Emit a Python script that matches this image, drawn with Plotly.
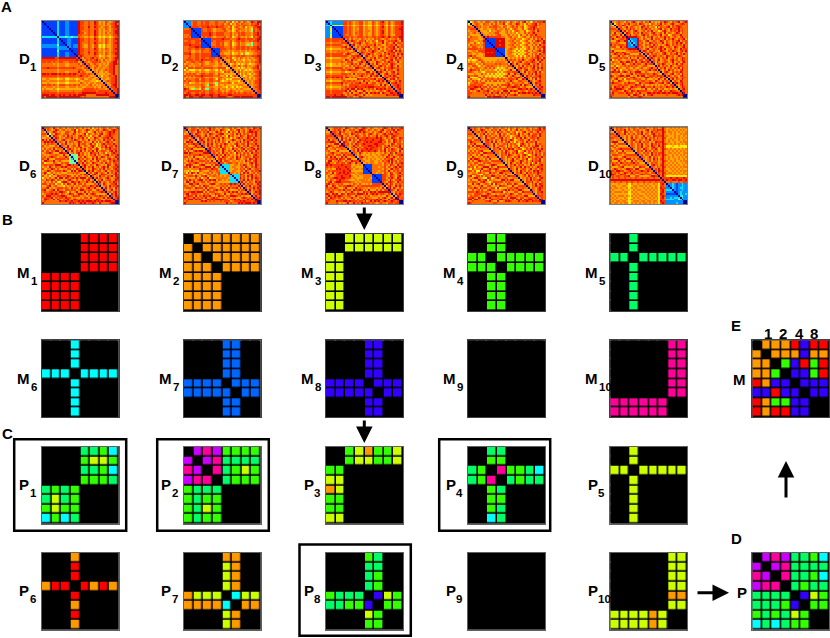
import plotly.graph_objects as go

W, H = 830, 638
N = 40

# distance matrices, upper triangle only (row i holds columns i..39), one digit per cell
D1 = ["01111 11131 11221 1111 9 88778 77987 67687 67899",
      "0111 11131 11221 1111 9 88778 77987 67686 7889",
      "011 11131 11221 1111 9 87778 77887 77677 67899",
      "01 11131 11221 1111 9 88779 77987 76787 68899",
      "0 11131 11221 1111 9 88778 77887 67687 67889",
      "0 1131 11221 1111 9 87778 77987 67677 67899",
      "0 131 11221 1111 9 88678 77987 67686 77899",
      "0 31 11221 1111 8 87778 77987 67677 67889",
      "0 3 33433 4333 8 77667 66876 56566 56788",
      "0 11122 1111 9 88778 77987 67687 67899",
      "0 1122 1111 9 88778 77887 67687 67889",
      "0 122 1111 9 87778 77987 77687 67899",
      "0 22 1222 9 87668 76886 56576 67889",
      "0 2 1222 9 87668 76886 56576 67889",
      "0 1111 9 88778 77987 67687 67899",
      "0 111 9 88778 77887 67677 67889",
      "0 11 9 87779 77987 77687 68899",
      "0 1 9 88778 77987 67687 67899",
      "0 8 98777 77877 56676 67789",
      "0 8687 78978 76768 76789 9",
      "0 7687 87897 76867 67898",
      "0 8767 88878 67767 8997",
      "0 7867 87767 67688 998",
      "0 8767 87677 67889",
      "0 7687 67767 7889",
      "0 6767 76787 889",
      "0 7686 67678 89",
      "0 7666 67678 9",
      "0 6757 67878 9",
      "0 7677 6788 9",
      "0 6766 7889",
      "0 6787 889",
      "0 7678 89",
      "0 7689 9",
      "0 7889",
      "0 7889",
      "0 889",
      "0 89",
      "00", "0"]
D2 = ["02227 88778 78877 78877 78678 57687 68767 98799",
      "0227 88778 78877 78877 86785 76876 87776 8789",
      "027 88788 88878 78878 87778 66787 78877 8898",
      "08 88878 88988 88988 87768 57876 78576 68899",
      "01111 87788 76677 78867 85678 77767 65878 9",
      "0111 87788 76677 77876 75687 67767 64878 8",
      "011 88889 87788 88777 86778 78877 76889 8",
      "01 88889 87788 88777 86768 78877 76889 8",
      "0 78788 76677 77867 85678 76767 65878 9",
      "01111 88888 89888 77789 88878 88789 9",
      "0111 87788 88777 86788 78877 87889 8",
      "011 77788 78667 85678 67766 64778 8",
      "01 77788 78667 85678 67764 64778 8",
      "0 88788 88777 86788 78878 77889 8",
      "01111 88877 87788 78878 78889 9",
      "0111 87776 76777 67767 67788 8",
      "011 77666 75667 66755 66778 8",
      "01 77666 75667 65745 66778 8",
      "0 88877 87788 78877 78889 9",
      "0 7687 85676 87676 76788 9",
      "0 7668 75767 65766 7678 9",
      "0 7687 86767 67767 7889",
      "0 7567 65756 76566 7888",
      "0 6786 87678 67678 9",
      "0 7665 75676 67889",
      "0 7675 76565 6778 8",
      "0 6867 67676 7889",
      "0 7576 76576 789",
      "0 6756 76678 89",
      "0 6767 57678 8",
      "0 7676 76789",
      "0 7676 7889",
      "0 6767 889",
      "0 7677 89",
      "0 6788 9",
      "0 7789",
      "0 788",
      "0 88",
      "00", "0"]
D3 = ["023 22222 2 8878 76778 86776 68767 89768 76788 89",
      "03 22222 2 8878 76778 86776 68767 88768 76788 89",
      "04 55455 7767 65667 75665 57656 78657 65677 88",
      "0 11111 8878 76778 86776 68767 89768 76788 89",
      "0 1111 8878 76768 86776 68767 88768 76788 99",
      "0 111 8878 76778 86777 68767 89768 76788 89",
      "0 11 8878 76878 86776 68767 89768 76788 89",
      "0 1 8778 76778 86776 68767 88768 76688 89",
      "0 8887 87788 87787 78878 89879 87888 99",
      "0 7868 67768 76767 68787 67876 77868 9",
      "0 8798 76887 96768 75889 67878 89769 8",
      "0 7687 89768 87678 67796 87679 68879",
      "0 8967 86768 78796 87668 7887 96786",
      "0 7686 87989 67876 78678 889 6978",
      "0 8768 97678 68796 76878 89 7686",
      "0 6787 86879 87678 67889 6979",
      "0 7986 76897 68769 7888 9678",
      "0 8768 97867 78687 9788 6979",
      "0 6897 68768 97867 889 7868",
      "0 8768 79687 68978 8 7969",
      "0 7896 87678 86789 6887",
      "0 8676 98768 7988 7696",
      "0 7869 76878 689 8767",
      "0 8768 97867 89 7696",
      "0 6897 68788 9 878",
      "0 7687 96878 679",
      "0 8976 86789 68",
      "0 7689 7688 79",
      "0 6878 979 86",
      "0 8976 88 79",
      "0 7698 9 68",
      "0 8767 8 79",
      "0 6889 78",
      "0 7889 8",
      "0 789 8",
      "0 78 9",
      "0 88",
      "0 9",
      "00", "0"]
D4 = ["05687 67768 87678 68787 56876 78689 67568 78889",
      "0678 76687 76868 67795 67867 98675 86788 968",
      "078 77677 76788 76678 56786 87675 68788 97",
      "08 78677 68788 77687 56787 86785 67889 86",
      "0 76677 66778 67768 67578 76685 68879 78",
      "0 7666 75767 87667 86757 87668 56788 69",
      "0 766 67678 86667 86767 57668 6878 97",
      "0 76 76767 88666 78676 75866 8688 79",
      "0 8 98888 88776 67867 75678 66868 78 8",
      "01111 99999 66677 86775 67866 8687 96",
      "0111 99899 66778 67756 78668 689 879",
      "011 99999 66677 86775 67866 87 7689",
      "01 99899 66778 67756 78668 68 6978",
      "0 99999 66677 86775 67866 868 789",
      "01111 66787 65756 57866 8678 69",
      "0111 67776 57565 78668 678 979",
      "011 66787 65756 57866 87 7689",
      "01 67776 57565 78668 68 6978",
      "0 66777 65757 57868 689 78",
      "0 8676 76768 67678 789 8697",
      "0 7878 68797 67889 6979",
      "0 6867 89678 7898 769",
      "0 8697 67889 678 7968",
      "0 7686 96878 69 7868",
      "0 6897 87678 9 6979",
      "0 8768 96788 7868",
      "0 7696 87789 696",
      "0 8768 7969 78",
      "0 6978 678 89",
      "0 8769 88 79",
      "0 7686 9 68",
      "0 8767 8 9",
      "0 7698 8",
      "0 6879 7",
      "0 788 9",
      "0 79 8",
      "0 88",
      "0 8",
      "00", "0"]
D5 = ["07678 77687 68976 78687 96767 68798 76878 96789",
      "0578 76879 67786 98767 58768 79687 68976 789 8",
      "068 79867 67887 67968 77686 98767 86879 88 7",
      "07 86796 88767 69878 67759 68778 96878 9 87",
      "0 87687 97867 68797 86767 89687 69788 9 78",
      "0 7968 76897 67868 79677 56897 68787 9 78",
      "0 698 76878 69787 68976 78696 87679 868",
      "0 87 96787 68978 67886 79678 56887 797",
      "0 9 99998 76868 79678 68797 86787 68 9",
      "0 3222 97687 67968 78679 68797 6878 96",
      "0 322 98768 96787 67986 87687 8968 78",
      "0 32 97867 69878 67796 87687 979 868",
      "0 2 98768 78697 86767 98687 878 697",
      "0 97867 68978 67986 78769 8678 97",
      "0 8768 96787 68979 67868 769 788",
      "0 7986 87867 69876 87987 68 979",
      "0 6878 96787 68976 87697 8 768",
      "0 7968 78676 89768 78968 79",
      "0 6879 86787 69878 6798 76",
      "0 8976 78687 96786 8679 8",
      "0 7868 96787 68978 679 8",
      "0 8697 67886 79678 68 9",
      "0 6787 98676 87968 9 7",
      "0 7968 78697 67888",
      "0 6879 67868 7969",
      "0 7686 97867 689",
      "0 6897 68787 98",
      "0 8768 96786 9",
      "0 7976 87689",
      "0 6887 9678 8",
      "0 7968 779",
      "0 6876 98",
      "0 8978 9",
      "0 7689",
      "0 679 8",
      "0 789",
      "0 88",
      "0 9",
      "00", "0"]
D6 = ["08787 69768 76867 78687 68676 85768 67876 87679",
      "0687 67986 78676 87958 76798 67688 67987 689 8",
      "076 79867 66887 67968 76785 67968 78678 98 9",
      "05 76987 67886 79867 67958 76876 89678 9 88",
      "0 69876 78697 86768 97867 58768 96788 9 8",
      "0 7986 76887 96768 79685 76987 67889 79",
      "0 876 89767 86987 68769 67868 76978 869",
      "0 78 76968 78679 86877 69685 87689 786",
      "0 6 87967 68769 78867 96857 68978 8 79",
      "0 8769 67886 97687 68975 76879 688 79",
      "0 789 67868 79676 87968 56879 89 868",
      "0 68 97867 68796 78679 85768 79 788",
      "0 8 69768 79686 87969 67887 68 979",
      "0 67868 97867 69887 96785 7689 87",
      "0 4444 97867 68796 87678 96878 9",
      "0 344 78697 66879 67986 87679 8",
      "0 44 97868 76969 78676 8978 79",
      "0 4 78697 68768 96787 6879 88",
      "0 87968 76987 67869 78688 7",
      "0 6897 68769 87676 98679 8",
      "0 7968 79678 68979 6788 9",
      "0 8676 98768 79687 689 8",
      "0 6979 67886 79678 78 9",
      "0 7868 96787 69687 9 7",
      "0 6897 67988 67689 8",
      "0 8676 97868 7969 8",
      "0 7968 76897 678 9",
      "0 6879 67886 79 8",
      "0 7968 76879 8",
      "0 8697 67889 6",
      "0 6786 9788 9",
      "0 7968 769",
      "0 8679 68",
      "0 7868 9",
      "0 6979",
      "0 879 8",
      "0 78 9",
      "0 8 9",
      "00", "0"]
D7 = ["08768 87687 86897 87676 87678 68767 87687 69879",
      "0678 87968 78697 86769 87658 76896 78679 887 8",
      "078 76986 87967 68978 67596 87696 78689 98 9",
      "08 69876 78698 76789 96767 86979 68786 8 79",
      "0 87986 79687 68978 67597 86769 87698 8 79",
      "0 7697 86878 96786 97685 76897 86798 69",
      "0 689 76978 68796 87667 98678 69788 979",
      "0 87 96878 69786 87596 76879 68797 688",
      "0 7 86979 67868 79867 68976 88697 8 79",
      "0 8697 86787 96876 78598 76879 678 79",
      "0 679 78686 97867 58768 79686 89 768",
      "0 89 76878 69867 69786 78968 78 979",
      "0 9 78687 69768 76978 68696 88 697",
      "0 78768 69786 87597 86878 6978 87",
      "0 8697 86978 67686 97868 768 97",
      "0 7686 98767 86979 67887 69 88",
      "0 6897 86787 69876 78698 7 9",
      "0 7968 87677 67676 97868 9",
      "0 8867 88778 67767 68979",
      "0 3333 66776 87986 78698",
      "0 333 67766 78697 68797",
      "0 33 66776 87868 96788",
      "0 3 67766 78697 68788 9",
      "0 77676 86979 67868 7",
      "0 3333 98767 89686 8",
      "0 333 87869 79787",
      "0 33 97868 69798",
      "0 3 87969 78688",
      "0 79686 87698 9",
      "0 7968 78679 8",
      "0 6879 68789",
      "0 8687 9798",
      "0 7968 789",
      "0 8679 89",
      "0 6878 9",
      "0 797 8",
      "0 88 9",
      "0 9 8",
      "00", "0"]
D8 = ["07678 87876 98767 87689 87687 66768 98769 78789",
      "0678 79869 76878 67998 76876 87689 67878 969 8",
      "088 76978 67687 98979 87768 67897 68796 89 7",
      "08 78967 87698 78678 76897 68768 97889 7 88",
      "0 87896 78676 98768 86867 79687 89768 9 8",
      "0 7697 86878 6978 88988 88989 76876 98769 8",
      "0 796 87968 7698 89888 98889 87687 69878 7",
      "0 69 87678 6987 88989 88899 78687 69878 6",
      "0 9 78686 9878 98888 89988 87676 98688 7",
      "0 8767 97868 88899 88988 68796 87879 6",
      "0 768 79686 89888 98878 68978 67689 7",
      "0 67 86978 88989 88878 69686 98768 9",
      "0 7 86979 88898 89868 79687 88769 6",
      "0 87697 66767 67667 68769 86978 7",
      "0 7686 67667 66767 87697 86788 9",
      "0 689 76766 76676 76986 79768 7",
      "0 87 66767 67667 68788 97687 8",
      "0 7 76667 76676 87896 97868 7",
      "0 66767 76677 68786 96878 9",
      "0 1111 77777 68769 87697 8",
      "0 111 77767 78687 68979 8",
      "0 11 77777 68768 97886 8",
      "0 1 77767 78697 68787 8",
      "0 77677 68769 86789 7",
      "0 1111 88768 97687 8",
      "0 111 88769 87689 7",
      "0 11 88687 97698 6",
      "0 1 88769 76889 7",
      "0 87689 87697 8",
      "0 7969 86878 7",
      "0 6897 69797",
      "0 8969 7686",
      "0 9876 978",
      "0 7687 88",
      "0 69798",
      "0 6987",
      "0 978",
      "0 88",
      "00", "0"]
D9 = ["08787 68768 87687 76876 86876 87676 87687 68979",
      "0787 68986 76878 69678 75867 96876 78687 889 78",
      "077 86879 67686 97867 88678 57689 67886 79 68",
      "07 68796 86876 79687 56878 69686 79678 8 79",
      "0 68769 78678 69786 87567 89678 68798 8 69",
      "0 8769 67886 78968 67586 87969 76888 79",
      "0 768 97868 76978 67985 67886 79678 68",
      "0 68 87969 67868 79675 86786 97887 96",
      "0 8 87696 86787 96878 65897 68676 9 78",
      "0 8769 67887 69686 78597 86868 799 68",
      "0 768 79678 69786 87956 78687 98 768",
      "0 68 77968 76989 67885 68796 87 979",
      "0 8 77686 98767 89567 96878 68 797",
      "0 77687 96868 79678 56879 6878 68",
      "0 7687 86987 67868 97568 797 868",
      "0 6876 98768 79687 69786 88 79",
      "0 8768 67968 76879 56878 7 96",
      "0 7686 89767 98686 79788 96",
      "0 6869 76879 67868 5796 87",
      "0 8687 96878 67697 8678 9",
      "0 6876 87969 78686 798 8",
      "0 8769 67886 79678 68 9",
      "0 7686 97868 76989 7 8",
      "0 6879 76978 68798",
      "0 8767 96878 6796",
      "0 7678 69786 879",
      "0 6768 79687 689",
      "0 7687 96878 9",
      "0 6887 96786 8",
      "0 8768 7969 8",
      "0 7687 978 9",
      "0 6876 89 8",
      "0 8768 9 7",
      "0 7688 9",
      "0 687 8",
      "0 888",
      "0 78",
      "0 9",
      "00", "0"]
D10 = ["08687 87768 67876 87876 76878 6 79 7 66767 67676 7",
       "0687 87968 76878 67689 67879 8 89 7 67676 76767 6",
       "078 76986 87678 79678 69788 7 79 8 67767 67676 7",
       "08 77968 67868 79687 68976 8 79 7 66767 66767 7",
       "0 77686 78687 67968 76987 8 89 7 76667 67667 6",
       "0 7686 79687 68796 87869 7 79 8 66767 67676 7",
       "0 686 78976 87687 96878 7 79 7 67676 67667 6",
       "0 86 78687 96878 67698 8 89 7 67667 66767 7",
       "0 6 78768 79687 69786 8 79 8 76767 67676 7",
       "0 78768 79678 69876 9 79 7 55565 56555 5",
       "0 8768 79687 68978 6 89 7 55655 55565 5",
       "0 768 76987 68797 6 79 8 76767 67676 7",
       "0 68 78697 86878 6 79 7 67676 76767 6",
       "0 8 76878 69786 8 89 7 67767 67667 7",
       "0 78687 69786 8 79 8 76676 76767 6",
       "0 8767 96878 6 79 7 67676 67676 7",
       "0 767 86979 6 89 7 67667 67667 6",
       "0 67 86878 6 79 8 76767 66767 7",
       "0 7 68787 6 79 7 67676 76676 7",
       "0 68978 6 89 7 76767 67667 6",
       "0 87687 79 8 67676 76767 7",
       "0 7869 79 7 66767 67676 6",
       "0 869 89 7 76676 76767 7",
       "0 78 79 8 67767 67667 6",
       "0 8 79 7 76676 76776 7",
       "0 79 7 55555 55555 5",
       "0 8 8 88988 98889 8",
       "0 8 98899 89988 9",
       "0 77877 78778 8",
       "0 2232 12232 2",
       "0 232 12232 2",
       "0 32 12332 2",
       "0 2 12232 2",
       "0 12322 2",
       "0 2322 3",
       "0 3422",
       "0 322",
       "0 22",
       "00", "0"]
D_MATS = [D1, D2, D3, D4, D5, D6, D7, D8, D9, D10]

# cluster membership matrices, 0 is empty, 1-10 index into CLUSTER_COLORS
M1 = [[0,0,0,0,1,1,1,1],[0,0,0,0,1,1,1,1],[0,0,0,0,1,1,1,1],[0,0,0,0,1,1,1,1],
      [1,1,1,1,0,0,0,0],[1,1,1,1,0,0,0,0],[1,1,1,1,0,0,0,0],[1,1,1,1,0,0,0,0]]
M2 = [[0,2,2,2,2,2,2,2],[2,0,2,2,2,2,2,2],[2,2,0,2,2,2,2,2],[2,2,2,0,2,2,2,2],
      [2,2,2,2,0,0,0,0],[2,2,2,2,0,0,0,0],[2,2,2,2,0,0,0,0],[2,2,2,2,0,0,0,0]]
M3 = [[0,0,3,3,3,3,3,3],[0,0,3,3,3,3,3,3],[3,3,0,0,0,0,0,0],[3,3,0,0,0,0,0,0],
      [3,3,0,0,0,0,0,0],[3,3,0,0,0,0,0,0],[3,3,0,0,0,0,0,0],[3,3,0,0,0,0,0,0]]
M4 = [[0,0,4,4,0,0,0,0],[0,0,4,4,0,0,0,0],[4,4,0,4,4,4,4,4],[4,4,4,0,4,4,4,4],
      [0,0,4,4,0,0,0,0],[0,0,4,4,0,0,0,0],[0,0,4,4,0,0,0,0],[0,0,4,4,0,0,0,0]]
M5 = [[0,0,5,0,0,0,0,0],[0,0,5,0,0,0,0,0],[5,5,0,5,5,5,5,5],[0,0,5,0,0,0,0,0],
      [0,0,5,0,0,0,0,0],[0,0,5,0,0,0,0,0],[0,0,5,0,0,0,0,0],[0,0,5,0,0,0,0,0]]
M6 = [[0,0,0,6,0,0,0,0],[0,0,0,6,0,0,0,0],[0,0,0,6,0,0,0,0],[6,6,6,0,6,6,6,6],
      [0,0,0,6,0,0,0,0],[0,0,0,6,0,0,0,0],[0,0,0,6,0,0,0,0],[0,0,0,6,0,0,0,0]]
M7 = [[0,0,0,0,7,7,0,0],[0,0,0,0,7,7,0,0],[0,0,0,0,7,7,0,0],[0,0,0,0,7,7,0,0],
      [7,7,7,7,0,7,7,7],[7,7,7,7,7,0,7,7],[0,0,0,0,7,7,0,0],[0,0,0,0,7,7,0,0]]
M8 = [[0,0,0,0,8,8,0,0],[0,0,0,0,8,8,0,0],[0,0,0,0,8,8,0,0],[0,0,0,0,8,8,0,0],
      [8,8,8,8,0,8,8,8],[8,8,8,8,8,0,8,8],[0,0,0,0,8,8,0,0],[0,0,0,0,8,8,0,0]]
M9 = [[0]*8 for _ in range(8)]
M10 = [[0,0,0,0,0,0,10,10],[0,0,0,0,0,0,10,10],[0,0,0,0,0,0,10,10],[0,0,0,0,0,0,10,10],
       [0,0,0,0,0,0,10,10],[0,0,0,0,0,0,10,10],[10,10,10,10,10,10,0,0],[10,10,10,10,10,10,0,0]]
M_MATS = [M1, M2, M3, M4, M5, M6, M7, M8, M9, M10]

P1 = [[0,0,0,0,5,5,4,6],[0,0,0,0,4,3,3,4],[0,0,0,0,5,5,4,6],[0,0,0,0,4,4,4,5],
      [5,4,5,4,0,0,0,0],[5,3,5,4,0,0,0,0],[4,3,4,4,0,0,0,0],[6,4,6,5,0,0,0,0]]
P2 = [[0,9,10,9,4,4,4,4],[9,0,9,10,5,5,5,5],[10,9,0,10,5,4,3,4],[9,10,10,0,5,4,4,4],
      [4,5,5,5,0,0,0,0],[4,5,4,4,0,0,0,0],[4,5,3,4,0,0,0,0],[4,5,4,4,0,0,0,0]]
P3 = [[0,0,4,3,2,4,4,3],[0,0,4,3,3,4,4,3],[4,4,0,0,0,0,0,0],[3,3,0,0,0,0,0,0],
      [2,3,0,0,0,0,0,0],[4,4,0,0,0,0,0,0],[4,4,0,0,0,0,0,0],[3,3,0,0,0,0,0,0]]
P4 = [[0,0,5,5,0,0,0,0],[0,0,4,4,0,0,0,0],[5,4,0,10,4,4,5,6],[5,4,10,0,5,4,5,5],
      [0,0,4,5,0,0,0,0],[0,0,4,4,0,0,0,0],[0,0,4,5,0,0,0,0],[0,0,6,5,0,0,0,0]]
P5 = [[0,0,3,0,0,0,0,0],[0,0,3,0,0,0,0,0],[3,3,0,3,3,3,3,3],[0,0,3,0,0,0,0,0],
      [0,0,3,0,0,0,0,0],[0,0,3,0,0,0,0,0],[0,0,3,0,0,0,0,0],[0,0,3,0,0,0,0,0]]
P6 = [[0,0,0,2,0,0,0,0],[0,0,0,1,0,0,0,0],[0,0,0,1,0,0,0,0],[2,1,1,0,1,2,1,2],
      [0,0,0,1,0,0,0,0],[0,0,0,2,0,0,0,0],[0,0,0,1,0,0,0,0],[0,0,0,2,0,0,0,0]]
P7 = [[0,0,0,0,2,2,0,0],[0,0,0,0,3,2,0,0],[0,0,0,0,3,2,0,0],[0,0,0,0,3,2,0,0],
      [2,3,3,3,0,6,3,3],[2,2,2,2,6,0,2,2],[0,0,0,0,3,2,0,0],[0,0,0,0,3,2,0,0]]
P8 = [[0,0,0,0,4,5,0,0],[0,0,0,0,5,5,0,0],[0,0,0,0,5,4,0,0],[0,0,0,0,5,4,0,0],
      [4,5,5,5,0,8,3,4],[5,5,4,4,8,0,4,4],[0,0,0,0,3,4,0,0],[0,0,0,0,4,4,0,0]]
P9 = [[0]*8 for _ in range(8)]
P10 = [[0,0,0,0,0,0,3,3],[0,0,0,0,0,0,3,3],[0,0,0,0,0,0,3,3],[0,0,0,0,0,0,3,3],
       [0,0,0,0,0,0,2,2],[0,0,0,0,0,0,3,3],[3,3,3,3,2,3,0,0],[3,3,3,3,2,3,0,0]]
P_MATS = [P1, P2, P3, P4, P5, P6, P7, P8, P9, P10]

M_ALL = [[0,2,2,2,1,8,1,1],[2,0,2,2,2,8,2,2],[2,2,0,4,8,1,4,1],[2,2,4,0,8,8,4,1],
         [1,2,8,8,0,8,8,8],[8,8,1,8,8,0,8,8],[1,2,4,4,8,8,0,0],[1,2,1,1,8,8,0,0]]
P_ALL = [[0,9,10,9,5,5,4,6],[9,0,9,10,5,5,5,5],[10,9,0,10,5,5,4,6],[9,10,10,0,5,4,5,5],
         [5,5,5,5,0,8,3,4],[5,5,5,4,8,0,4,4],[4,5,4,5,3,4,0,0],[6,5,6,5,4,4,0,0]]

TOP_LABELS = ["1", "2", "4", "8"]

CLUSTER_COLORS = ["#000000", "#ff0000", "#ff9900", "#ccff00", "#33ff00", "#00ff66",
                  "#00ffff", "#0066ff", "#3300ff", "#cc00ff", "#ff0099"]
JET_COLORS = ["#00008f", "#0040ff", "#0090ff", "#10e0f0", "#70ffa0", "#ffec00",
              "#ffa800", "#ff7000", "#ff3c00", "#dc0800"]

COL_X = [41.7, 183.7, 326, 468, 610.3]
D_ROWS = [20.7, 127.3]
M_ROWS = [234, 340.3]
P_ROWS = [446.7, 552.7]
SIZE = 77


def full_matrix(rows):
    z = [[7] * N for _ in range(N)]
    for i, row in enumerate(rows):
        for k, ch in enumerate(row.replace(" ", "")[:N - i]):
            z[i][i + k] = z[i + k][i] = int(ch)
    return z


def scale(colors):
    return [[i / (len(colors) - 1), c] for i, c in enumerate(colors)]


fig = go.Figure()
n_axes = 0


def add_panel(z, x0, y0, colors, gap=0, line="#808080"):
    global n_axes
    n_axes += 1
    fig.add_trace(go.Heatmap(z=z, xaxis="x%d" % n_axes, yaxis="y%d" % n_axes, showscale=False,
                             colorscale=scale(colors), zmin=0, zmax=len(colors) - 1,
                             xgap=gap, ygap=gap, hoverinfo="skip"))
    fig.layout["xaxis%d" % n_axes] = dict(domain=[x0 / W, (x0 + SIZE) / W], anchor="y%d" % n_axes,
                                          showticklabels=False, ticks="", showgrid=False, zeroline=False,
                                          showline=True, mirror=True, linecolor=line, linewidth=1)
    fig.layout["yaxis%d" % n_axes] = dict(domain=[1 - (y0 + SIZE) / H, 1 - y0 / H], anchor="x%d" % n_axes,
                                          autorange="reversed", showticklabels=False, ticks="",
                                          showgrid=False, zeroline=False,
                                          showline=True, mirror=True, linecolor=line, linewidth=1)


def label(text, x, y, size=15, bold=True):
    fig.add_annotation(text="<b>%s</b>" % text if bold else text, x=x / W, y=1 - y / H,
                       xref="paper", yref="paper", xanchor="left", yanchor="middle", showarrow=False,
                       borderpad=0, font=dict(family="Liberation Sans", size=size, color="black"))


def panel_label(letter, idx, x0, y0, dx, sub_dx):
    mid = y0 + SIZE / 2
    label(letter, x0 + dx, mid - 0.5)
    label(str(idx), x0 + sub_dx, mid + 8, size=11.5)


for i in range(10):
    r, c = divmod(i, 5)
    add_panel(full_matrix(D_MATS[i]), COL_X[c], D_ROWS[r], JET_COLORS)
    panel_label("D", i + 1, COL_X[c], D_ROWS[r], -23.5, -12.5)
    add_panel(M_MATS[i], COL_X[c], M_ROWS[r], CLUSTER_COLORS, gap=1.6, line="#404040")
    panel_label("M", i + 1, COL_X[c], M_ROWS[r], -26, -12)
    add_panel(P_MATS[i], COL_X[c], P_ROWS[r], CLUSTER_COLORS, gap=1.6, line="#606060")
    panel_label("P", i + 1, COL_X[c], P_ROWS[r], -23.5, -13)

add_panel(M_ALL, 752.3, 340.3, CLUSTER_COLORS, gap=1.6, line="#404040")
add_panel(P_ALL, 752.3, 552.7, CLUSTER_COLORS, gap=1.6, line="#606060")

label("A", 0, 6.5)
label("B", 1, 219.5)
label("C", 1, 433)
label("E", 730, 325.5)
label("D", 730, 538)
label("M", 732, 379)
label("P", 735.5, 592)
for text, x in zip(TOP_LABELS, [763, 778, 793.5, 808.5]):
    label(text, x, 333.5)

# frames round the selected clusters
for x0, y0, x1, y1 in [(14.2, 439.2, 126.2, 530.8), (157.2, 439.2, 268.8, 530.8),
                       (439.2, 439.2, 550.2, 530.8), (299.5, 544.5, 410.8, 635.8)]:
    fig.add_shape(type="rect", xref="paper", yref="paper", x0=x0 / W, x1=x1 / W, y0=1 - y0 / H, y1=1 - y1 / H,
                  line=dict(color="black", width=2.5), layer="below")

# arrows: tip position, then tail offset in pixels
for x, y, ax, ay in [(364.3, 230, 0, -24), (364.3, 443, 0, -24), (786, 461, 0, 38), (729, 592.7, -33, 0)]:
    fig.add_annotation(x=x / W, y=1 - y / H, xref="paper", yref="paper", text="", showarrow=True,
                       axref="pixel", ayref="pixel", ax=ax, ay=ay, arrowhead=2, arrowsize=1.1,
                       arrowwidth=3, arrowcolor="black")

fig.update_layout(width=W, height=H, margin=dict(l=0, r=0, t=0, b=0), paper_bgcolor="white",
                  plot_bgcolor="black", showlegend=False)
# the page's default body margin would push the 830 px figure out of the window
fig.write_html("out.html", config={"displayModeBar": False}, post_script="document.body.style.margin='0';")
